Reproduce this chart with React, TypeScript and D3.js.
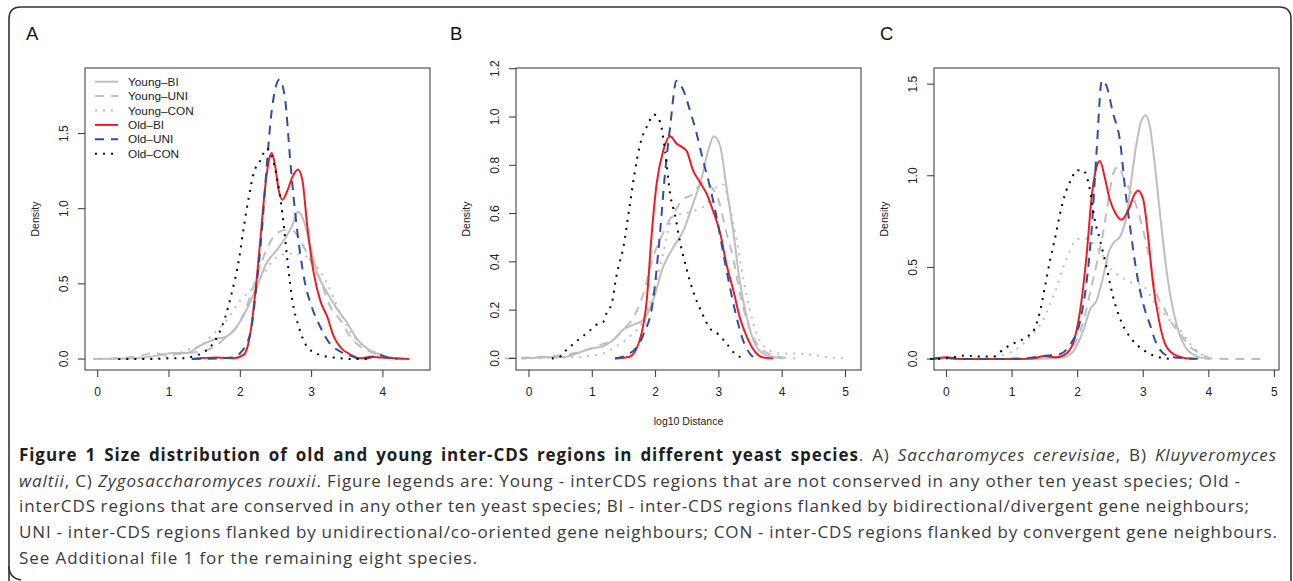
import React, { useMemo } from "react";
import * as d3 from "d3";

// ---------- Data (log10 distance, density) ----------
// Panel A – Saccharomyces cerevisiae
const A_youngBI = [[-0.06,0],[0.5,0.005],[0.88,0.027],[1.06,0.04],[1.25,0.04],[1.44,0.09],[1.63,0.13],[1.81,0.15],[1.95,0.215],[2.09,0.33],[2.23,0.48],[2.37,0.64],[2.52,0.73],[2.61,0.79],[2.72,0.88],[2.81,0.98],[2.89,0.92],[2.98,0.75],[3.08,0.57],[3.22,0.44],[3.36,0.33],[3.5,0.24],[3.64,0.13],[3.78,0.07],[3.97,0.027],[4.16,0.005],[4.3,0]];
const A_youngUNI = [[-0.06,0],[0.27,0.005],[0.59,0.02],[0.78,0.04],[0.97,0.027],[1.25,0.04],[1.44,0.05],[1.63,0.08],[1.81,0.15],[1.95,0.215],[2.09,0.35],[2.23,0.55],[2.37,0.73],[2.52,0.84],[2.66,0.86],[2.75,0.85],[2.84,0.79],[2.98,0.66],[3.12,0.53],[3.26,0.35],[3.4,0.26],[3.54,0.15],[3.69,0.08],[3.87,0.04],[4.06,0.015],[4.25,0]];
const A_youngCON = [[-0.06,0],[0.5,0],[0.97,0.015],[1.25,0.06],[1.44,0.09],[1.63,0.17],[1.81,0.26],[2.0,0.39],[2.19,0.48],[2.33,0.57],[2.47,0.66],[2.66,0.7],[2.8,0.7],[2.94,0.68],[3.08,0.61],[3.22,0.5],[3.36,0.35],[3.5,0.215],[3.69,0.1],[3.87,0.05],[4.06,0.02],[4.25,0]];
const A_oldBI = [[1.32,0],[1.67,0.01],[1.91,0.005],[2.05,0.03],[2.14,0.17],[2.21,0.44],[2.28,0.79],[2.35,1.15],[2.4,1.32],[2.44,1.37],[2.49,1.28],[2.54,1.12],[2.59,1.06],[2.66,1.12],[2.73,1.21],[2.81,1.26],[2.87,1.19],[2.94,0.88],[3.03,0.57],[3.12,0.39],[3.22,0.28],[3.31,0.15],[3.4,0.08],[3.54,0.03],[3.69,0.005],[3.83,0.015],[3.97,0.01],[4.16,0.005],[4.37,0]];
const A_oldUNI = [[1.32,0],[1.91,0.01],[2.0,0.04],[2.14,0.17],[2.23,0.5],[2.3,0.84],[2.37,1.28],[2.44,1.65],[2.55,1.86],[2.63,1.72],[2.7,1.32],[2.77,0.97],[2.84,0.7],[2.91,0.5],[3.0,0.35],[3.12,0.215],[3.26,0.1],[3.4,0.05],[3.59,0.015],[3.69,0],[3.83,0.01],[3.92,0.03],[4.06,0.01],[4.2,0]];
const A_oldCON = [[0.29,0],[0.69,0],[1.06,0.005],[1.2,0.005],[1.32,0.015],[1.46,0.04],[1.58,0.08],[1.7,0.17],[1.79,0.28],[1.88,0.44],[1.98,0.66],[2.05,0.88],[2.12,1.08],[2.19,1.24],[2.28,1.32],[2.37,1.4],[2.44,1.35],[2.52,1.19],[2.59,0.97],[2.66,0.66],[2.73,0.39],[2.82,0.215],[2.94,0.08],[3.12,0.027],[3.31,0.01],[3.59,0],[3.78,0]];

// Panel B – Kluyveromyces waltii
const B_youngBI = [[-0.12,0],[0.28,0.005],[0.59,0.007],[0.75,0.02],[0.96,0.04],[1.17,0.05],[1.33,0.076],[1.49,0.12],[1.65,0.14],[1.81,0.16],[1.96,0.24],[2.12,0.38],[2.28,0.46],[2.44,0.53],[2.59,0.64],[2.73,0.75],[2.83,0.86],[2.92,0.92],[3.02,0.88],[3.12,0.71],[3.23,0.52],[3.33,0.32],[3.44,0.17],[3.57,0.06],[3.7,0.02],[3.91,0.004],[4.02,0]];
const B_youngUNI = [[-0.38,0],[0.02,0.004],[0.38,0.01],[0.65,0.018],[0.91,0.035],[1.17,0.06],[1.33,0.076],[1.49,0.12],[1.65,0.17],[1.81,0.27],[1.96,0.42],[2.12,0.52],[2.28,0.6],[2.44,0.66],[2.59,0.68],[2.75,0.73],[2.88,0.71],[2.99,0.66],[3.12,0.52],[3.23,0.41],[3.33,0.27],[3.44,0.16],[3.6,0.06],[3.81,0.017],[4.02,0.004],[4.2,0]];
const B_youngCON = [[-0.09,0],[0.54,0.003],[1.07,0.014],[1.38,0.05],[1.59,0.09],[1.81,0.16],[1.96,0.27],[2.12,0.435],[2.28,0.59],[2.44,0.6],[2.59,0.61],[2.81,0.64],[2.96,0.71],[3.07,0.72],[3.17,0.63],[3.28,0.49],[3.38,0.34],[3.49,0.2],[3.6,0.1],[3.76,0.04],[3.96,0.02],[4.2,0.02],[4.49,0.014],[4.75,0.004],[5.02,0]];
const B_oldBI = [[1.36,0],[1.59,0.007],[1.75,0.076],[1.86,0.24],[1.94,0.52],[2.02,0.73],[2.12,0.86],[2.23,0.92],[2.33,0.89],[2.49,0.86],[2.59,0.78],[2.7,0.73],[2.81,0.68],[2.91,0.61],[3.02,0.52],[3.12,0.39],[3.23,0.28],[3.33,0.17],[3.44,0.09],[3.57,0.028],[3.7,0.004],[3.86,0]];
const B_oldUNI = [[1.36,0],[1.59,0.02],[1.81,0.1],[1.96,0.24],[2.07,0.52],[2.15,0.77],[2.23,0.96],[2.33,1.15],[2.44,1.11],[2.54,1.03],[2.65,0.93],[2.75,0.82],[2.86,0.71],[2.96,0.59],[3.07,0.435],[3.17,0.3],[3.28,0.17],[3.38,0.076],[3.49,0.02],[3.57,0]];
const B_oldCON = [[0.36,0],[0.49,0.007],[0.59,0.035],[0.7,0.06],[0.81,0.083],[0.94,0.11],[1.07,0.14],[1.17,0.15],[1.23,0.19],[1.31,0.23],[1.38,0.34],[1.49,0.46],[1.59,0.63],[1.67,0.77],[1.75,0.88],[1.88,0.97],[1.97,1.01],[2.07,0.98],[2.15,0.86],[2.23,0.68],[2.31,0.59],[2.38,0.49],[2.49,0.37],[2.59,0.28],[2.73,0.19],[2.86,0.124],[2.99,0.1],[3.12,0.062],[3.25,0.02],[3.41,0]];

// Panel C – Zygosaccharomyces rouxii
const C_youngBI = [[-0.23,0],[0,0.004],[0.2,0],[1.22,0],[1.63,0.004],[1.83,0.013],[1.98,0.067],[2.09,0.16],[2.19,0.27],[2.29,0.32],[2.39,0.45],[2.47,0.58],[2.54,0.63],[2.65,0.67],[2.75,0.79],[2.82,0.98],[2.9,1.18],[2.97,1.3],[3.04,1.33],[3.1,1.27],[3.18,1.05],[3.26,0.78],[3.36,0.47],[3.48,0.23],[3.64,0.067],[3.81,0.016],[4.02,0]];
const C_youngUNI = [[-0.2,0],[0.2,0],[1.22,0],[1.63,0.009],[1.83,0.03],[1.98,0.1],[2.09,0.21],[2.19,0.36],[2.29,0.52],[2.39,0.69],[2.47,0.87],[2.54,1.01],[2.62,1.05],[2.7,0.99],[2.8,0.92],[2.9,0.83],[3.0,0.7],[3.1,0.54],[3.2,0.36],[3.31,0.285],[3.41,0.21],[3.56,0.14],[3.71,0.067],[3.87,0.03],[4.02,0.004],[4.27,0],[4.53,0],[4.88,0]];
const C_youngCON = [[0.61,0],[0.86,0.02],[1.12,0.067],[1.32,0.14],[1.47,0.21],[1.58,0.3],[1.68,0.39],[1.78,0.5],[1.88,0.59],[1.98,0.65],[2.09,0.66],[2.24,0.63],[2.39,0.56],[2.49,0.5],[2.65,0.45],[2.8,0.42],[2.95,0.41],[3.05,0.38],[3.15,0.32],[3.26,0.27],[3.41,0.21],[3.56,0.16],[3.71,0.085],[3.87,0.03],[4.02,0]];
const C_oldBI = [[-0.23,0],[0,0.01],[0.2,0],[1.12,0],[1.32,0.004],[1.5,0.016],[1.68,0.009],[1.83,0.03],[1.96,0.12],[2.06,0.32],[2.14,0.58],[2.21,0.87],[2.29,1.05],[2.34,1.08],[2.42,0.98],[2.49,0.87],[2.57,0.8],[2.67,0.76],[2.77,0.81],[2.87,0.9],[2.92,0.92],[3.0,0.87],[3.08,0.65],[3.15,0.41],[3.23,0.23],[3.33,0.085],[3.46,0.027],[3.61,0.007],[3.79,0]];
const C_oldUNI = [[-0.23,0],[0,0.007],[0.2,0],[0.71,0],[1.22,0.004],[1.47,0.016],[1.73,0.027],[1.88,0.076],[2.04,0.21],[2.14,0.43],[2.21,0.69],[2.29,1.14],[2.37,1.52],[2.44,1.49],[2.54,1.34],[2.65,1.18],[2.72,0.94],[2.8,0.72],[2.9,0.47],[3.0,0.3],[3.1,0.19],[3.2,0.085],[3.31,0.03],[3.46,0.009],[3.66,0.004],[3.92,0]];
const C_oldCON = [[-0.25,0],[0,0.004],[0.31,0.02],[0.46,0.013],[0.71,0.013],[0.86,0.05],[0.97,0.076],[1.09,0.095],[1.22,0.12],[1.32,0.15],[1.42,0.25],[1.5,0.39],[1.58,0.54],[1.65,0.65],[1.73,0.79],[1.8,0.89],[1.91,0.985],[1.98,1.03],[2.08,1.03],[2.19,0.92],[2.26,0.76],[2.34,0.65],[2.44,0.5],[2.54,0.34],[2.67,0.2],[2.82,0.11],[3.0,0.05],[3.15,0.02],[3.43,0]];

const seriesNames = ["Young\u2013BI", "Young\u2013UNI", "Young\u2013CON", "Old\u2013BI", "Old\u2013UNI", "Old\u2013CON"];
const panelLetters = ["A", "B", "C"];
const xTicksA = [0, 1, 2, 3, 4];
const xTicksBC = [0, 1, 2, 3, 4, 5];
const yTicksA = [0, 0.5, 1, 1.5];
const yTicksB = [0, 0.2, 0.4, 0.6, 0.8, 1.0, 1.2];
const yTicksC = [0, 0.5, 1, 1.5];
const yLabel = "Density";
const xLabel = "log10 Distance";

// caption runs: b = bold, n = normal, i = italic
const captionLines: [string, string][][] = [
  [["b", "Figure 1 Size distribution of old and young inter-CDS regions in different yeast species"], ["n", ". A) "], ["i", "Saccharomyces cerevisiae"], ["n", ", B) "], ["i", "Kluyveromyces"]],
  [["i", "waltii"], ["n", ", C) "], ["i", "Zygosaccharomyces rouxii"], ["n", ". Figure legends are: Young - interCDS regions that are not conserved in any other ten yeast species; Old -"]],
  [["n", "interCDS regions that are conserved in any other ten yeast species; BI - inter-CDS regions flanked by bidirectional/divergent gene neighbours;"]],
  [["n", "UNI - inter-CDS regions flanked by unidirectional/co-oriented gene neighbours; CON - inter-CDS regions flanked by convergent gene neighbours."]],
  [["n", "See Additional file 1 for the remaining eight species."]],
];
const captionLineEnds = [1277, 1241, 1250, 1278, null];

// ---------- Styles ----------
const GRAY = "#bebebe";
const RED = "#ee1d25";
const BLUE = "#2d4ea3";
const seriesStyles = [
  { color: GRAY, dash: null },
  { color: GRAY, dash: "9 7" },
  { color: GRAY, dash: "2 6" },
  { color: RED, dash: null },
  { color: BLUE, dash: "9 7" },
  { color: "#000", dash: "2 6" },
];
const PLOT_FONT = "'Liberation Sans', Arial, Helvetica, sans-serif";
const CAP_FONT = "'Open Sans', 'Noto Sans', sans-serif";
const CAP_SIZE = 17;
const LAST_LINE_WIDTH = 459; // target width of the last caption line

const panels = [
  { letter: panelLetters[0], left: 85, right: 430, xDomain: [-0.178, 4.66], yDomain: [-0.073, 1.936], xTicks: xTicksA, yTicks: yTicksA, yFmt: ".1f", series: [A_youngBI, A_youngUNI, A_youngCON, A_oldBI, A_oldUNI, A_oldCON], legend: true, xlab: false, letterX: 26 },
  { letter: panelLetters[1], left: 516, right: 861, xDomain: [-0.205, 5.245], yDomain: [-0.048, 1.203], xTicks: xTicksBC, yTicks: yTicksB, yFmt: ".1f", series: [B_youngBI, B_youngUNI, B_youngCON, B_oldBI, B_oldUNI, B_oldCON], legend: false, xlab: true, letterX: 450 },
  { letter: panelLetters[2], left: 934, right: 1279, xDomain: [-0.19, 5.07], yDomain: [-0.06, 1.588], xTicks: xTicksBC, yTicks: yTicksC, yFmt: ".1f", series: [C_youngBI, C_youngUNI, C_youngCON, C_oldBI, C_oldUNI, C_oldCON], legend: false, xlab: false, letterX: 880 },
];
const TOP = 68;
const BOTTOM = 370;

function Panel({ cfg }: { cfg: any }) {
  const x = d3.scaleLinear().domain(cfg.xDomain).range([cfg.left, cfg.right]);
  const y = d3.scaleLinear().domain(cfg.yDomain).range([BOTTOM, TOP]);
  const line = d3
    .line<number[]>()
    .x((d) => x(d[0]))
    .y((d) => y(d[1]))
    .curve(d3.curveMonotoneX);
  const fmt = d3.format(cfg.yFmt);
  const midY = (TOP + BOTTOM) / 2;
  return (
    <g>
      <text x={cfg.letterX} y={39.5} fontFamily={PLOT_FONT} fontSize={18.5} fill="#111">
        {cfg.letter}
      </text>
      {cfg.series.map((s: number[][], i: number) => (
        <path
          key={i}
          d={line(s) || ""}
          fill="none"
          stroke={seriesStyles[i].color}
          strokeWidth={2}
          strokeDasharray={seriesStyles[i].dash || undefined}
          strokeLinejoin="round"
        />
      ))}
      <rect x={cfg.left} y={TOP} width={cfg.right - cfg.left} height={BOTTOM - TOP} fill="none" stroke="#333" strokeWidth={1} />
      {cfg.xTicks.map((t: number) => (
        <g key={"x" + t}>
          <line x1={x(t)} x2={x(t)} y1={BOTTOM} y2={BOTTOM + 7} stroke="#333" />
          <text x={x(t)} y={BOTTOM + 26} textAnchor="middle" fontFamily={PLOT_FONT} fontSize={12} fill="#222">
            {t}
          </text>
        </g>
      ))}
      {cfg.yTicks.map((t: number) => (
        <g key={"y" + t}>
          <line x1={cfg.left - 7} x2={cfg.left} y1={y(t)} y2={y(t)} stroke="#333" />
          <text
            transform={`translate(${cfg.left - 17},${y(t)}) rotate(-90)`}
            textAnchor="middle"
            fontFamily={PLOT_FONT}
            fontSize={12}
            fill="#222"
          >
            {fmt(t)}
          </text>
        </g>
      ))}
      <text
        transform={`translate(${cfg.left - 46},${midY}) rotate(-90)`}
        textAnchor="middle"
        fontFamily={PLOT_FONT}
        fontSize={10.5}
        fill="#222"
      >
        {yLabel}
      </text>
      {cfg.xlab && (
        <text x={(cfg.left + cfg.right) / 2} y={425} textAnchor="middle" fontFamily={PLOT_FONT} fontSize={10.5} fill="#222">
          {xLabel}
        </text>
      )}
      {cfg.legend &&
        seriesNames.map((name, i) => {
          const ly = 81.7 + i * 14.4;
          return (
            <g key={name}>
              <line
                x1={cfg.left + 10}
                x2={cfg.left + 33}
                y1={ly}
                y2={ly}
                stroke={seriesStyles[i].color}
                strokeWidth={2}
                strokeDasharray={seriesStyles[i].dash || undefined}
              />
              <text x={cfg.left + 43} y={ly + 4} fontFamily={PLOT_FONT} fontSize={11.8} fill="#222">
                {name}
              </text>
            </g>
          );
        })}
    </g>
  );
}

function fontFor(style: string) {
  if (style === "b") return `bold ${CAP_SIZE}px ${CAP_FONT}`;
  if (style === "i") return `italic ${CAP_SIZE}px ${CAP_FONT}`;
  return `${CAP_SIZE}px ${CAP_FONT}`;
}

type Piece = { s: string; t: string; w: number };
function layoutCaption() {
  const canvas = document.createElement("canvas");
  const ctx = canvas.getContext("2d")!;
  const raw = (s: string, t: string) => {
    ctx.font = fontFor(s);
    return ctx.measureText(t).width;
  };
  // letter spacing chosen so that the (unjustified) last line has the reference width
  const lastText = captionLines[captionLines.length - 1].map((r) => r[1]).join("");
  const ls = Math.max(0, (LAST_LINE_WIDTH - raw("n", lastText)) / lastText.length);
  const measure = (s: string, t: string) => raw(s, t) + ls * t.length;
  const spaceW = measure("n", " ");
  const lines = captionLines.map((runs, li) => {
    const words: Piece[][] = [];
    let cur: Piece[] = [];
    runs.forEach(([s, text]) => {
      for (const ch of text) {
        if (ch === " ") {
          if (cur.length) words.push(cur);
          cur = [];
        } else {
          const last = cur[cur.length - 1];
          if (last && last.s === s) last.t += ch;
          else cur.push({ s, t: ch, w: 0 });
        }
      }
    });
    if (cur.length) words.push(cur);
    words.forEach((w) => w.forEach((p) => (p.w = measure(p.s, p.t))));
    const widths = words.map((w) => d3.sum(w, (p) => p.w));
    const total = d3.sum(widths);
    const x0 = 19;
    const end = captionLineEnds[li];
    const gap = end != null && words.length > 1 ? (end - x0 - total) / (words.length - 1) : spaceW;
    let xx = x0;
    return words.map((w, wi) => {
      const item = { x: xx, pieces: w };
      xx += widths[wi] + gap;
      return item;
    });
  });
  return { lines, ls };
}

export default function App() {
  const caption = useMemo(() => layoutCaption(), []);
  return (
    <svg width={1293} height={581} style={{ position: "absolute", left: 0, top: 0, background: "#fff" }}>
      <rect x={0} y={0} width={1293} height={581} fill="#fff" />
      <path d="M9,595 L9,19 Q9,7 21,7 L1279,7 Q1291,7 1291,19 L1291,595" fill="none" stroke="#333" strokeWidth={1.6} />
      <path d="M9,566 Q9,578 21,580" fill="none" stroke="#333" strokeWidth={1.6} />
      {panels.map((p) => (
        <Panel key={p.letter} cfg={p} />
      ))}
      {caption.lines.map((line, li) =>
        line.map((w, wi) => (
          <text
            key={li + "-" + wi}
            x={w.x}
            y={461 + li * 25.7}
            fontFamily={CAP_FONT}
            fontSize={CAP_SIZE}
            letterSpacing={caption.ls}
            fill="#2e2e2e"
          >
            {w.pieces.map((p, pi) => (
              <tspan key={pi} fontWeight={p.s === "b" ? 700 : 400} fontStyle={p.s === "i" ? "italic" : "normal"} fill={p.s === "b" ? "#1e1e1e" : "#3a3a3a"}>
                {p.t}
              </tspan>
            ))}
          </text>
        ))
      )}
    </svg>
  );
}
